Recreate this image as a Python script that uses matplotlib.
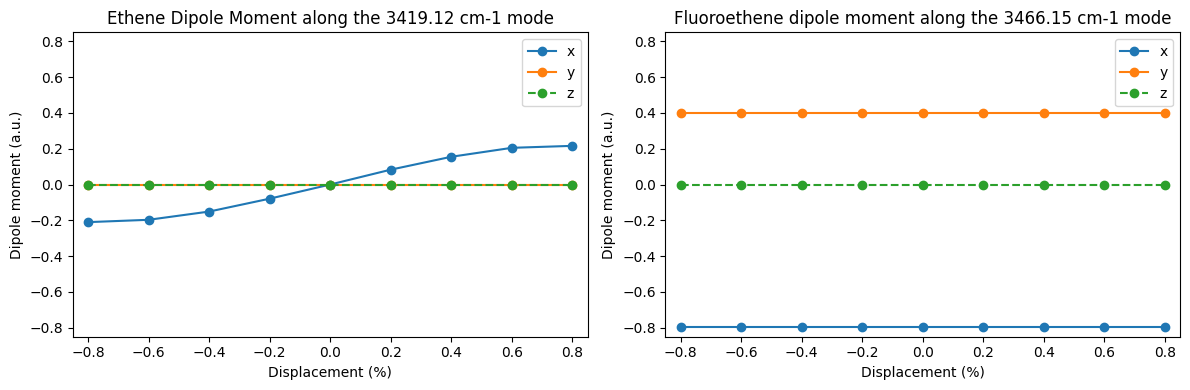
import numpy as np
import matplotlib
matplotlib.use('Agg')
import matplotlib.pyplot as plt

displacement = [-0.8, -0.6, -0.4, -0.2, 0.0, 0.2, 0.4, 0.6, 0.8]

# ethene dipole components
ethene_x = [-0.21, -0.197, -0.151, -0.079, 0.0, 0.083, 0.155, 0.205, 0.216]
ethene_y = [0.0] * 9
ethene_z = [0.0] * 9

# fluoroethene dipole components
fluoro_x = [-0.793] * 9
fluoro_y = [0.398] * 9
fluoro_z = [0.0] * 9

fig, axes = plt.subplots(1, 2, figsize=(12, 4), dpi=100)

panels = [
    (axes[0], ethene_x, ethene_y, ethene_z, 'Ethene Dipole Moment along the 3419.12 cm-1 mode'),
    (axes[1], fluoro_x, fluoro_y, fluoro_z, 'Fluoroethene dipole moment along the 3466.15 cm-1 mode'),
]

for ax, dx, dy, dz, title in panels:
    ax.plot(displacement, dx, 'o-', label='x')
    ax.plot(displacement, dy, 'o-', label='y')
    ax.plot(displacement, dz, 'o--', label='z')
    ax.set_xlim(-0.85, 0.85)
    ax.set_ylim(-0.85, 0.85)
    ax.set_xticks(np.arange(-0.8, 0.81, 0.2))
    ax.set_title(title)
    ax.set_xlabel('Displacement (%)')
    ax.set_ylabel('Dipole moment (a.u.)')
    ax.legend(loc='upper right')

plt.tight_layout()
plt.savefig('out.png', dpi=100, bbox_inches='tight')
